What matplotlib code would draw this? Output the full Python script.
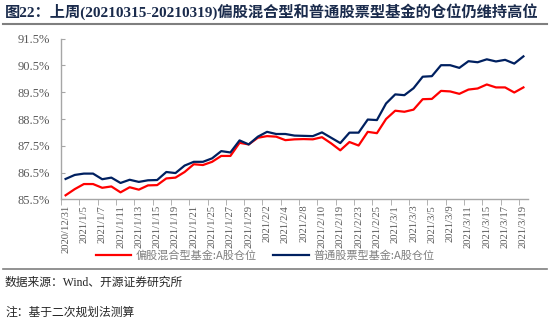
import matplotlib
matplotlib.use("Agg")
import matplotlib.pyplot as plt
import numpy as np

plt.rcParams['font.family'] = ['Liberation Serif', 'Noto Sans CJK SC', 'DejaVu Sans']

dates = ['2020/12/31', '2021/1/4', '2021/1/5', '2021/1/6', '2021/1/7', '2021/1/8',
         '2021/1/11', '2021/1/12', '2021/1/13', '2021/1/14', '2021/1/15', '2021/1/18',
         '2021/1/19', '2021/1/20', '2021/1/21', '2021/1/22', '2021/1/25', '2021/1/26',
         '2021/1/27', '2021/1/28', '2021/1/29', '2021/2/1', '2021/2/2', '2021/2/3',
         '2021/2/4', '2021/2/5', '2021/2/8', '2021/2/9', '2021/2/10', '2021/2/18',
         '2021/2/19', '2021/2/22', '2021/2/23', '2021/2/24', '2021/2/25', '2021/2/26',
         '2021/3/1', '2021/3/2', '2021/3/3', '2021/3/4', '2021/3/5', '2021/3/8',
         '2021/3/9', '2021/3/10', '2021/3/11', '2021/3/12', '2021/3/15', '2021/3/16',
         '2021/3/17', '2021/3/18', '2021/3/19']

# 偏股混合型基金 A股仓位 (%)
mixed = [85.65, 85.88, 86.07, 86.07, 85.93, 85.98, 85.76, 85.95, 85.86, 86.02,
         86.03, 86.28, 86.31, 86.52, 86.81, 86.78, 86.90, 87.12, 87.12, 87.61,
         87.55, 87.80, 87.86, 87.84, 87.71, 87.74, 87.75, 87.74, 87.82, 87.59,
         87.33, 87.64, 87.51, 88.02, 87.97, 88.50, 88.81, 88.77, 88.85, 89.24,
         89.25, 89.55, 89.53, 89.44, 89.60, 89.64, 89.79, 89.68, 89.68, 89.49,
         89.68]

# 普通股票型基金 A股仓位 (%)
stock = [86.26, 86.41, 86.46, 86.46, 86.25, 86.31, 86.11, 86.23, 86.15, 86.21,
         86.22, 86.52, 86.48, 86.76, 86.90, 86.90, 87.03, 87.30, 87.25, 87.70,
         87.55, 87.84, 88.02, 87.94, 87.94, 87.88, 87.87, 87.86, 88.00, 87.80,
         87.60, 87.99, 87.99, 88.48, 88.46, 89.08, 89.42, 89.39, 89.65, 90.08,
         90.10, 90.51, 90.51, 90.41, 90.66, 90.62, 90.73, 90.65, 90.71, 90.57,
         90.84]

yticks = [85.5, 86.5, 87.5, 88.5, 89.5, 90.5, 91.5]

fig = plt.figure(figsize=(5.5, 3.24), dpi=100)
ax = fig.add_axes([61 / 550, 1 - 199.3 / 324, 467 / 550, 160.6 / 324])

x = np.arange(len(dates))
ax.plot(x, mixed, color='#FF0000', lw=1.6, label='偏股混合型基金:A股仓位')
ax.plot(x, stock, color='#002060', lw=1.6, label='普通股票型基金:A股仓位')

ax.set_xlim(-0.5, len(dates) - 0.5)
ax.set_ylim(85.5, 91.5)
ax.set_yticks(yticks)
ax.set_yticklabels(['%.1f%%' % v for v in yticks], fontsize=9, color='#595959',
                   family='Liberation Serif')
ax.tick_params(axis='y', direction='in', length=3, color='#A6A6A6', pad=8)

ax.set_xticks(x[::2])
ax.set_xticklabels(dates[::2], rotation=90, fontsize=7.7, color='#595959',
                   family='Liberation Serif')
ax.tick_params(axis='x', length=0, pad=4)
# tick marks between categories
ax.set_xticks(np.arange(-0.5, len(dates), 2), minor=True)
ax.tick_params(axis='x', which='minor', direction='out', length=4, color='#A6A6A6')

for s in ['top', 'right']:
    ax.spines[s].set_visible(False)
for s in ['left', 'bottom']:
    ax.spines[s].set_color('#A6A6A6')
    ax.spines[s].set_linewidth(1)

leg = fig.legend(loc='center', bbox_to_anchor=(265 / 550, 1 - 256 / 324), ncol=2,
                 frameon=False, handlelength=3.2, columnspacing=1.5,
                 handletextpad=0.4, prop={'family': ['Noto Sans CJK SC'], 'size': 8})
for t in leg.get_texts():
    t.set_color('#7F7F7F')

fig.text(5 / 550, 1 - 12 / 324,
         '图22：上周(20210315-20210319)偏股混合型和普通股票型基金的仓位仍维持高位',
         fontsize=11, fontweight='bold', color='#1a2b4c', va='center', ha='left',
         family=['Liberation Serif', 'Noto Sans CJK SC'])
fig.add_artist(plt.Line2D([3 / 550, 547 / 550], [1 - 24 / 324, 1 - 24 / 324],
                          color='#7F7F7F', lw=1.5))
fig.add_artist(plt.Line2D([3 / 550, 547 / 550], [1 - 269 / 324, 1 - 269 / 324],
                          color='#7F7F7F', lw=1.2))
fig.text(5 / 550, 1 - 283 / 324, '数据来源：Wind、开源证券研究所', fontsize=8.5,
         color='#262626', va='center', ha='left',
         family=['Liberation Serif', 'Noto Sans CJK SC'])
fig.text(5 / 550, 1 - 313 / 324, '注：基于二次规划法测算', fontsize=8.5,
         color='#262626', va='center', ha='left',
         family=['Liberation Serif', 'Noto Sans CJK SC'])

fig.savefig('out.png', dpi=100)
